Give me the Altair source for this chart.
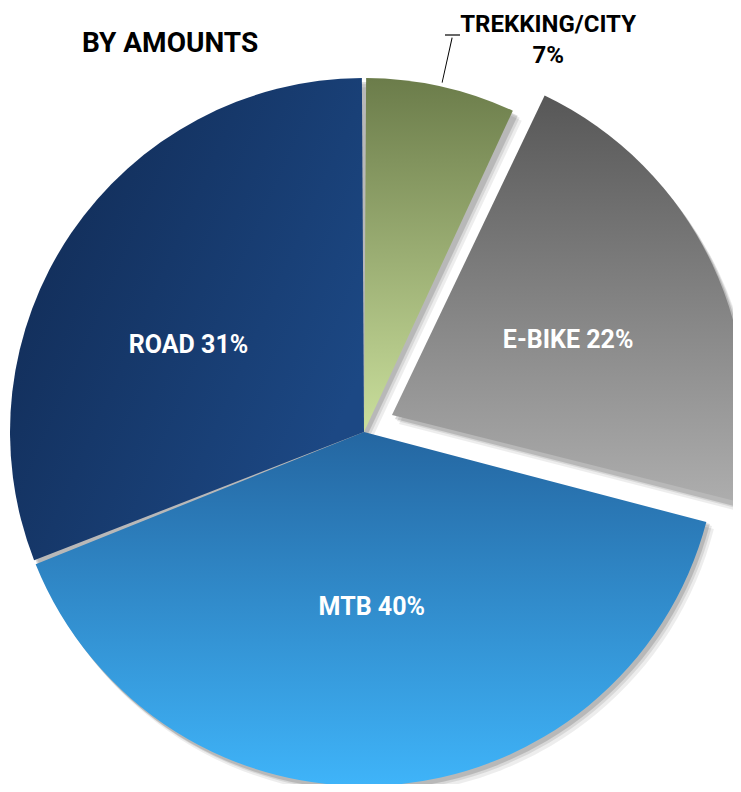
import altair as alt
import pandas as pd

# ---- data ----
categories = ["TREKKING/CITY", "E-BIKE", "MTB", "ROAD"]
shares = [7, 22, 40, 31]
labels = ["TREKKING/CITY\n7%", "E-BIKE 22%", "MTB 40%", "ROAD 31%"]
title_text = ["BY AMOUNTS"]

df = pd.DataFrame({"cat": categories, "share": shares,
                   "order": list(range(len(categories))), "label": labels})

# ---- style ----
CX, CY, R = 356, 424, 354
EXPLODE = {"E-BIKE": (28, -17)}
NUDGE = {"E-BIKE": (6, 5), "MTB": (-4, -13), "ROAD": (-20, 19)}
FONT = "Roboto"
grad = {
    "TREKKING/CITY": ("#6b7c4a", "#cadf9c", (0, 0, 0, 1)),
    "E-BIKE": ("#575757", "#adadad", (0, 0, 0, 1)),
    "MTB": ("#2466a1", "#3fb4f9", (0, 0, 0, 1)),
    "ROAD": ("#102850", "#1c4884", (0, 0, 1, 0.6)),
}

theta_scale = alt.Scale(domain=[0, 100])

base = alt.Chart(df).transform_window(
    end="sum(share)", sort=[alt.SortField("order")], frame=[None, 0]
).transform_calculate(
    start="datum.end - datum.share",
    mid="datum.end - datum.share / 2",
    l1="datum.end - datum.share / 2 - 0.02",
    l2="datum.end - datum.share / 2 + 0.02",
)

pos = dict(x=alt.value(CX), y=alt.value(CY))
enc = dict(theta=alt.Theta("start:Q", scale=theta_scale), theta2="end:Q", **pos)

layers = []

# shadows
for (ox, oy, op) in [(7, 9, 0.07), (5, 6, 0.09), (3, 4, 0.14)]:
    for cat in categories:
        ex, ey = EXPLODE.get(cat, (0, 0))
        layers.append(
            base.transform_filter(alt.datum.cat == cat)
            .mark_arc(radius=R, color="#000000", opacity=op,
                      xOffset=ex + ox, yOffset=ey + oy)
            .encode(**enc)
        )

# slices
for cat in categories:
    ex, ey = EXPLODE.get(cat, (0, 0))
    c1, c2, (x1, y1, x2, y2) = grad[cat]
    layers.append(
        base.transform_filter(alt.datum.cat == cat)
        .mark_arc(
            radius=R, padAngle=0.012, xOffset=ex, yOffset=ey,
            color=alt.Gradient(
                gradient="linear", x1=x1, y1=y1, x2=x2, y2=y2,
                stops=[alt.GradientStop(color=c1, offset=0),
                       alt.GradientStop(color=c2, offset=1)],
            ),
        )
        .encode(**enc)
    )

# inner labels
for cat in ["E-BIKE", "MTB", "ROAD"]:
    ex, ey = EXPLODE.get(cat, (0, 0))
    nx, ny = NUDGE[cat]
    layers.append(
        base.transform_filter(alt.datum.cat == cat)
        .mark_text(radius=188, dx=ex + nx, dy=ey + ny, font=FONT, fontWeight="bold",
                   fontSize=25, color="white", align="center", baseline="middle")
        .encode(theta=alt.Theta("mid:Q", scale=theta_scale), text="label:N", **pos)
    )

# outer label + leader
layers.append(
    base.transform_filter(alt.datum.cat == "TREKKING/CITY")
    .mark_arc(radius=358, radius2=404, color="#000000")
    .encode(theta=alt.Theta("l1:Q", scale=theta_scale), theta2="l2:Q", **pos)
)
layers.append(
    alt.Chart(pd.DataFrame({"a": [0]})).mark_rule(color="#000000", strokeWidth=1.2)
    .encode(x=alt.value(437), x2=alt.value(452), y=alt.value(27))
)
layers.append(
    base.transform_filter(alt.datum.cat == "TREKKING/CITY")
    .mark_text(radius=404, dx=96, dy=-13, font=FONT, fontWeight="bold", fontSize=24,
               color="#000000", align="center", baseline="middle",
               lineBreak="\n", lineHeight=31)
    .encode(theta=alt.Theta("mid:Q", scale=theta_scale), text="label:N", **pos)
)

# title
layers.append(
    alt.Chart(pd.DataFrame({"t": title_text}))
    .mark_text(font=FONT, fontWeight="bold", fontSize=28, color="#000000",
               align="center", baseline="middle")
    .encode(text="t:N", x=alt.value(162), y=alt.value(36))
)

chart = alt.layer(*layers).properties(
    width=725, height=776, autosize=alt.AutoSizeParams(type="none"), padding=0
).configure_view(stroke=None)

chart.save("out.html", embed_options={"renderer": "svg", "actions": False})
